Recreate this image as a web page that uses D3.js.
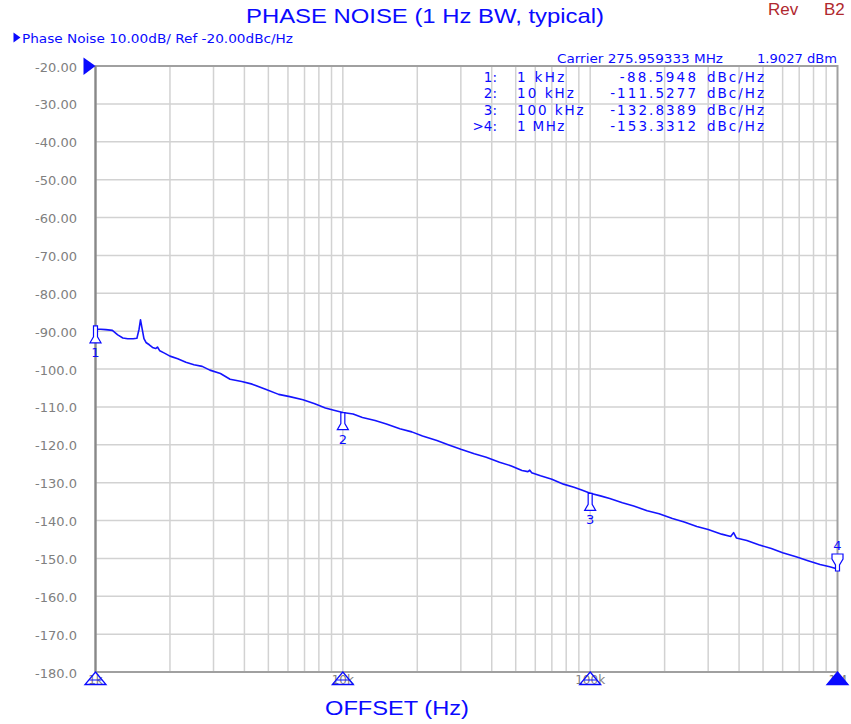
<!DOCTYPE html>
<html><head><meta charset="utf-8">
<script src="https://cdn.jsdelivr.net/npm/d3@7"></script>
<style>html,body{margin:0;padding:0;background:#fff;}svg{display:block;}</style>
</head><body>
<script>
// ---- data ----
const freqHz = [1000,1020,1050,1100,1170,1230,1290,1350,1420,1470,1500,1520,1540,1570,1600,1650,1700,1750,1780,1820,1900,2000,2150,2320,2500,2700,2900,3200,3500,3900,4300,4900,5500,6100,6900,7700,8500,9200,10000,
  11000,12000,13500,15000,17000,19000,21000,24000,27000,30000,34000,38000,43000,48000,53000,56000,57000,58000,63000,70000,78000,86000,93000,100000,
  110000,120000,135000,150000,170000,190000,215000,240000,270000,300000,340000,370000,380000,390000,430000,480000,540000,600000,680000,760000,850000,930000,1000000];
const noiseDbc = [-89.2,-89.5,-89.5,-89.6,-89.8,-91.0,-91.8,-92.0,-92.0,-91.9,-89.5,-87.0,-89.0,-92.0,-93.0,-93.6,-94.3,-94.6,-94.2,-95.2,-95.8,-96.6,-97.3,-98.2,-98.9,-99.3,-100.3,-101.2,-102.7,-103.3,-104.0,-105.4,-106.7,-107.3,-108.1,-109.2,-110.3,-110.9,-111.5,
  -111.9,-112.8,-113.6,-114.5,-115.8,-116.6,-117.7,-118.9,-120.1,-121.2,-122.4,-123.3,-124.6,-125.6,-126.8,-127.1,-126.7,-127.4,-128.2,-129.1,-130.4,-131.2,-132.0,-132.8,
  -133.5,-134.2,-135.3,-136.2,-137.4,-138.2,-139.5,-140.4,-141.6,-142.4,-143.6,-144.2,-143.2,-144.6,-145.3,-146.4,-147.4,-148.5,-149.6,-150.6,-151.6,-152.2,-152.8];
const yTicks = [-20,-30,-40,-50,-60,-70,-80,-90,-100,-110,-120,-130,-140,-150,-160,-170,-180];
const yTickLabels = ["-20.00","-30.00","-40.00","-50.00","-60.00","-70.00","-80.00","-90.00","-100.0","-110.0","-120.0","-130.0","-140.0","-150.0","-160.0","-170.0","-180.0"];
const xTicks = [1e3,1e4,1e5,1e6];
const xTickLabels = ["1k","10k","100k","1M"];
const markerIds = ["1:","2:","3:",">4:"];
const markerNums = ["1","2","3","4"];
const markerFreq = [1000,10000,100000,1000000];
const markerFreqLabels = ["1 kHz","10 kHz","100 kHz","1 MHz"];
const markerVal = [-88.5948,-111.5277,-132.8389,-153.3312];
const markerValLabels = ["-88.5948","-111.5277","-132.8389","-153.3312"];

// ---- layout ----
const W = 851, H = 724;
const L = 95.5, R = 837.5, T = 66, B = 672;
const blue = "#0a0aff", gray = "#808080";
const svg = d3.select("body").append("svg").attr("width", W).attr("height", H);
const x = d3.scaleLog().domain([1e3,1e6]).range([L,R]);
const y = d3.scaleLinear().domain([-20,-180]).range([T,B]);

// grid
const vgrid = [];
[1e3,1e4,1e5].forEach(d => { for (let k=1;k<=9;k++) vgrid.push(d*k); });
svg.append("g").selectAll("line").data(vgrid.filter(v=>v>1e3)).join("line")
  .attr("x1", d=>x(d)).attr("x2", d=>x(d)).attr("y1", T).attr("y2", B)
  .attr("stroke", "#d2d2d2").attr("stroke-width", 1.5);
svg.append("g").selectAll("line").data(yTicks.slice(1,-1)).join("line")
  .attr("x1", L).attr("x2", R).attr("y1", d=>y(d)).attr("y2", d=>y(d))
  .attr("stroke", "#d2d2d2").attr("stroke-width", 1.5);
svg.append("rect").attr("x", L).attr("y", T).attr("width", R-L).attr("height", B-T)
  .attr("fill", "none").attr("stroke", "#a0a0a0").attr("stroke-width", 2);
svg.append("line").attr("x1", L).attr("x2", L).attr("y1", T).attr("y2", B).attr("stroke", "#888").attr("stroke-width", 2);

// y labels
svg.append("g").selectAll("text").data(yTicks).join("text")
  .attr("x", 77).attr("y", d=>y(d)+5.5).attr("text-anchor","end")
  .attr("font-family","DejaVu Sans").attr("font-size", 13).attr("fill", gray)
  .text((d,i)=>yTickLabels[i]);

// x labels
svg.append("g").selectAll("text").data(xTicks).join("text")
  .attr("x", d=>x(d)).attr("y", 684).attr("text-anchor","middle")
  .attr("font-family","DejaVu Sans").attr("font-size", 12).attr("fill", gray)
  .text((d,i)=>xTickLabels[i]);

// curve
const line = d3.line().x((d,i)=>x(freqHz[i])).y(d=>y(d));
svg.append("path").datum(noiseDbc).attr("d", line).attr("fill","none")
  .attr("stroke", "#1414ff").attr("stroke-width", 1.6).attr("stroke-linejoin","round");

// markers on curve
markerFreq.forEach((f,i) => {
  const mx = x(f), my = y(markerVal[i]);
  const g = svg.append("g").attr("stroke", blue).attr("stroke-width", 1.2).attr("fill", "#fff");
  if (i < 3) {
    g.append("path").attr("d", `M${mx-2},${my} L${mx+2},${my} L${mx+2},${my+11} L${mx+5.5},${my+17} L${mx-5.5},${my+17} L${mx-2},${my+11} Z`);
    svg.append("text").attr("x", mx).attr("y", my+31).attr("text-anchor","middle")
      .attr("font-family","DejaVu Sans").attr("font-size", 13).attr("fill", blue).text(markerNums[i]);
  } else {
    g.append("path").attr("d", `M${mx-2},${my} L${mx+2},${my} L${mx+2},${my-6} L${mx+5.5},${my-12} L${mx+5.5},${my-17} L${mx-5.5},${my-17} L${mx-5.5},${my-12} L${mx-2},${my-6} Z`);
    svg.append("text").attr("x", mx).attr("y", my-21).attr("text-anchor","middle")
      .attr("font-family","DejaVu Sans").attr("font-size", 13).attr("fill", blue).text(markerNums[i]);
  }
  // bottom axis marker
  const by = B;
  const tri = svg.append("path").attr("d", `M${mx},${by} L${mx+10.5},${by+12.5} L${mx-10.5},${by+12.5} Z`)
    .attr("stroke", blue).attr("stroke-width", 1.3);
  if (i < 3) {
    tri.attr("fill", "none");
    svg.append("line").attr("x1", mx-6).attr("x2", mx+6).attr("y1", by+8).attr("y2", by+8).attr("stroke", blue).attr("stroke-width", 1);
  } else tri.attr("fill", blue);
});

// ref triangle on y axis
svg.append("path").attr("d", `M83.5,57.5 L95.5,66 L83.5,75 Z`).attr("fill", blue);

// header texts
svg.append("text").attr("x", 425).attr("y", 23).attr("text-anchor","middle")
  .attr("font-family","Liberation Sans, Arial").attr("font-size", 21).attr("fill", blue)
  .attr("textLength", 358).attr("lengthAdjust","spacingAndGlyphs").text("PHASE NOISE (1 Hz BW, typical)");
svg.append("text").attr("x", 768).attr("y", 15)
  .attr("font-family","Liberation Sans, Arial").attr("font-size", 17).attr("fill", "#b0282e").text("Rev");
svg.append("text").attr("x", 824).attr("y", 15)
  .attr("font-family","Liberation Sans, Arial").attr("font-size", 17).attr("fill", "#b0282e").text("B2");
svg.append("path").attr("d","M13.5,32.5 L20.5,37.5 L13.5,42.5 Z").attr("fill", blue);
svg.append("text").attr("x", 22).attr("y", 43)
  .attr("font-family","DejaVu Sans").attr("font-size", 12.5).attr("fill", blue)
  .attr("textLength", 271).attr("lengthAdjust","spacingAndGlyphs").text("Phase Noise 10.00dB/ Ref -20.00dBc/Hz");
svg.append("text").attr("x", 557).attr("y", 63)
  .attr("font-family","DejaVu Sans").attr("font-size", 12.5).attr("fill", blue)
  .attr("textLength", 166).attr("lengthAdjust","spacingAndGlyphs").text("Carrier 275.959333 MHz");
svg.append("text").attr("x", 757).attr("y", 63)
  .attr("font-family","DejaVu Sans").attr("font-size", 12.5).attr("fill", blue)
  .attr("textLength", 80).attr("lengthAdjust","spacingAndGlyphs").text("1.9027 dBm");

// marker table
const rowY = [82, 98, 114.5, 131];
const cw = 9.65;
const tf = s => s.attr("font-family","DejaVu Sans").attr("font-size", 13.5).attr("fill", blue).attr("lengthAdjust","spacing");
markerIds.forEach((id,i) => {
  tf(svg.append("text").attr("x", 497).attr("y", rowY[i]).attr("text-anchor","end")).text(id);
  tf(svg.append("text").attr("x", 517).attr("y", rowY[i]).attr("textLength", markerFreqLabels[i].length*cw-1)).text(markerFreqLabels[i]);
  tf(svg.append("text").attr("x", 696).attr("y", rowY[i]).attr("text-anchor","end").attr("textLength", markerValLabels[i].length*cw-1)).text(markerValLabels[i]);
  tf(svg.append("text").attr("x", 707).attr("y", rowY[i]).attr("textLength", 57)).text("dBc/Hz");
});

// x title
svg.append("text").attr("x", 397).attr("y", 715).attr("text-anchor","middle")
  .attr("font-family","Liberation Sans, Arial").attr("font-size", 21).attr("fill", blue)
  .attr("textLength", 144).attr("lengthAdjust","spacingAndGlyphs").text("OFFSET (Hz)");
</script>
</body></html>
